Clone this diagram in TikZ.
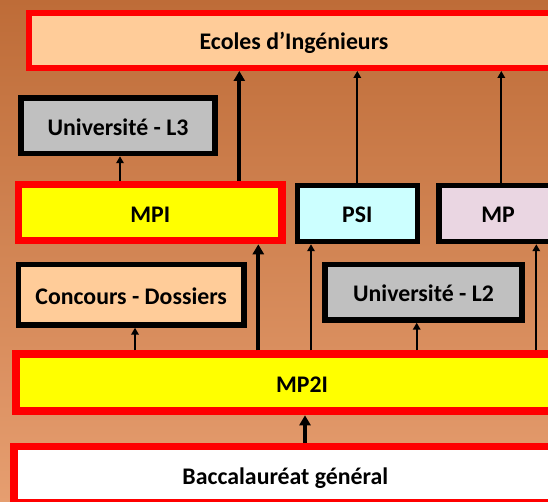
\documentclass[tikz,border=0pt]{standalone}
\usepackage{fontspec}
\setmainfont{Carlito}
\usetikzlibrary{arrows.meta}
\definecolor{bgtop}{RGB}{190,108,56}
\definecolor{bgbot}{RGB}{230,158,112}
\definecolor{tanfill}{RGB}{255,204,153}
\definecolor{grayfill}{RGB}{192,192,192}
\definecolor{cyanfill}{RGB}{204,255,255}
\definecolor{pinkfill}{RGB}{234,214,226}
\definecolor{boxred}{RGB}{255,0,0}
\definecolor{boxyellow}{RGB}{255,255,0}
\tikzset{
  box/.style={rectangle, inner sep=0pt, text height=20pt, text depth=1pt,
    font=\fontsize{23.8}{28}\selectfont\bfseries, text=black},
  redbox/.style={box, draw=boxred},
  blackbox/.style={box, draw=black},
  thinarr/.style={line width=2pt, -{Triangle[length=7pt,width=7.5pt]}},
  thickarr/.style={line width=4pt, -{Triangle[length=10pt,width=11pt]}}
}
\begin{document}
\begin{tikzpicture}[x=1pt,y=-1pt]
\useasboundingbox (0,0) rectangle (548,502);
\clip (0,0) rectangle (548,502);
\shade[top color=bgtop, bottom color=bgbot] (0,0) rectangle (548,502);
% boxes
\node[redbox, line width=6pt, fill=tanfill, minimum width=530pt, minimum height=55pt] (ecoles) at (294,40.5) {Ecoles d’Ingénieurs};
\node[blackbox, line width=5.5pt, fill=grayfill, minimum width=194pt, minimum height=55.5pt] (l3) at (118,125.75) {Université - L3};
\node[redbox, line width=7.5pt, fill=boxyellow, minimum width=263.5pt, minimum height=55.8pt] (mpi) at (150.25,212.65) {MPI};
\node[blackbox, line width=5.3pt, fill=cyanfill, minimum width=120pt, minimum height=56.2pt] (psi) at (357.3,213.5) {PSI};
\node[blackbox, line width=5.3pt, fill=pinkfill, minimum width=118pt, minimum height=56.2pt] (mp) at (498,213.5) {MP};
\node[blackbox, line width=5.5pt, fill=tanfill, minimum width=225.5pt, minimum height=60.2pt] (conc) at (131.2,294.85) {Concours - Dossiers};
\node[blackbox, line width=5.5pt, fill=grayfill, minimum width=196.9pt, minimum height=55.2pt] (l2) at (423.5,292.35) {Université - L2};
\node[redbox, line width=8pt, fill=boxyellow, minimum width=571.4pt, minimum height=57pt] (mp2i) at (302,382.8) {MP2I};
\node[redbox, line width=7.5pt, fill=white, minimum width=543.1pt, minimum height=56.5pt] (bac) at (285.3,474.7) {Baccalauréat général};
% arrow columns
\coordinate (xa) at (120,0);
\coordinate (xb) at (239.3,0);
\coordinate (xc) at (357.3,0);
\coordinate (xd) at (501.3,0);
\coordinate (xe) at (135,0);
\coordinate (xf) at (258.3,0);
\coordinate (xg) at (311,0);
\coordinate (xh) at (416.7,0);
\coordinate (xi) at (536.3,0);
\coordinate (xj) at (305,0);
% connectors
\draw[thinarr] (mpi.north -| xa) -- (l3.south -| xa);
\draw[thickarr] (mpi.north -| xb) -- (ecoles.south -| xb);
\draw[thinarr] (psi.north -| xc) -- (ecoles.south -| xc);
\draw[thinarr] (mp.north -| xd) -- (ecoles.south -| xd);
\draw[thinarr] (mp2i.north -| xe) -- (conc.south -| xe);
\draw[thickarr] (mp2i.north -| xf) -- (mpi.south -| xf);
\draw[thinarr] (mp2i.north -| xg) -- (psi.south -| xg);
\draw[thinarr] (mp2i.north -| xh) -- (l2.south -| xh);
\draw[thinarr] (mp2i.north -| xi) -- (mp.south -| xi);
\draw[thickarr] (bac.north -| xj) -- (mp2i.south -| xj);
\end{tikzpicture}
\end{document}
